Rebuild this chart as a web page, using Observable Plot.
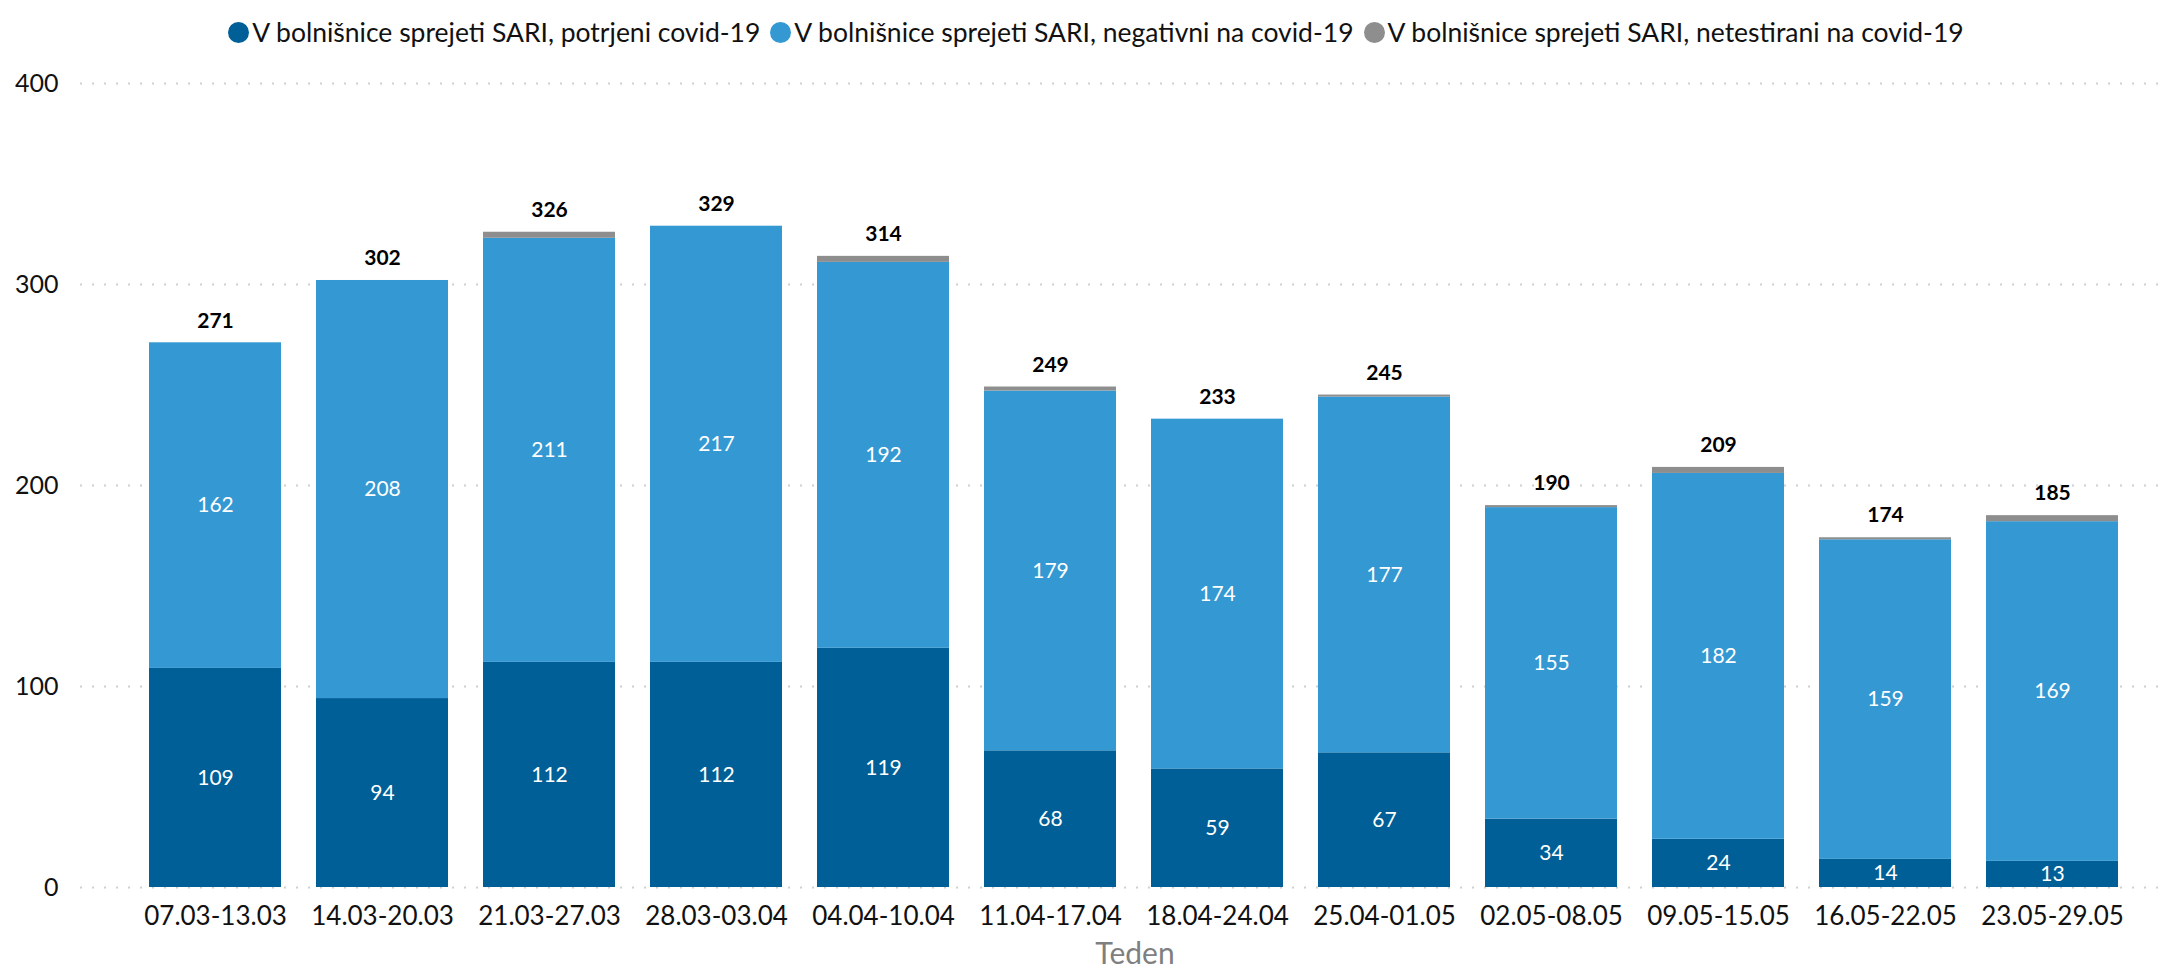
<!DOCTYPE html>
<html>
<head>
<meta charset="utf-8">
<script src="https://cdn.jsdelivr.net/npm/d3@7"></script>
<script src="https://cdn.jsdelivr.net/npm/@observablehq/plot@0.6"></script>
<style>
  html, body { margin: 0; padding: 0; background: #fff; font-family: Lato, "Open Sans", sans-serif; overflow: hidden; }
  #legend { height: 60px; display: flex; align-items: center; justify-content: center; padding-left: 17px; padding-top: 4px; box-sizing: border-box; font-size: 26.5px; color: #111; }
  .item { display: flex; align-items: center; margin: 0 5px; white-space: nowrap; }
  .sw { width: 21px; height: 21px; border-radius: 50%; margin-right: 3px; }
  #xlabel { height: 36px; line-height: 34px; text-align: center; padding-left: 95px; font-size: 30px; color: #7f7f7f; }
</style>
</head>
<body>
<div id="legend"></div>
<div id="chart"></div>
<div id="xlabel"></div>
<script>
const weeks = ["07.03-13.03","14.03-20.03","21.03-27.03","28.03-03.04","04.04-10.04","11.04-17.04","18.04-24.04","25.04-01.05","02.05-08.05","09.05-15.05","16.05-22.05","23.05-29.05"];
const confirmed = [109, 94, 112, 112, 119, 68, 59, 67, 34, 24, 14, 13];
const negative  = [162, 208, 211, 217, 192, 179, 174, 177, 155, 182, 159, 169];
const untested  = [0, 0, 3, 0, 3, 2, 0, 1, 1, 3, 1, 3];
const seriesNames = [
  "V bolnišnice sprejeti SARI, potrjeni covid-19",
  "V bolnišnice sprejeti SARI, negativni na covid-19",
  "V bolnišnice sprejeti SARI, netestirani na covid-19"
];
const seriesColors = ["#005f96", "#3498d3", "#8e8e8e"];
const yTicks = [0, 100, 200, 300, 400];
const xAxisLabel = "Teden";

const seriesValues = [confirmed, negative, untested];
const rows = weeks.flatMap((w, i) => seriesNames.map((s, k) => ({week: w, series: s, value: seriesValues[k][i]})));
const totals = weeks.map((w, i) => ({week: w, total: confirmed[i] + negative[i] + untested[i]}));
const innerLabels = weeks.flatMap((w, i) => [
  {week: w, mid: confirmed[i] / 2, value: confirmed[i]},
  {week: w, mid: confirmed[i] + negative[i] / 2, value: negative[i]}
]);

// legend
const legend = document.getElementById("legend");
seriesNames.forEach((s, k) => {
  const it = document.createElement("div");
  it.className = "item";
  const sw = document.createElement("span");
  sw.className = "sw";
  sw.style.background = seriesColors[k];
  const t = document.createElement("span");
  t.textContent = s;
  it.appendChild(sw); it.appendChild(t);
  legend.appendChild(it);
});
document.getElementById("xlabel").textContent = xAxisLabel;

const chart = Plot.plot({
  width: 2175,
  height: 875,
  marginLeft: 80,
  marginRight: 7,
  marginTop: 23,
  marginBottom: 48,
  style: {fontFamily: "Lato, 'Open Sans', sans-serif", fontSize: "26px", color: "#111", background: "#fff"},
  x: {domain: weeks, paddingInner: 0.212, paddingOuter: 0.339, align: 0.58, label: null},
  y: {domain: [0, 400], label: null},
  color: {domain: seriesNames, range: seriesColors},
  marks: [
    Plot.ruleY(yTicks, {stroke: "#cfcfcf", strokeWidth: 2, strokeDasharray: "2,10"}),
    Plot.barY(rows, {x: "week", y: "value", fill: "series"}),
    Plot.text(innerLabels, {x: "week", y: "mid", text: d => String(d.value), fill: "white", fontSize: 21}),
    Plot.text(totals, {x: "week", y: "total", text: d => String(d.total), dy: -22, fill: "#000", fontWeight: "bold", fontSize: 21}),
    Plot.axisY({ticks: yTicks, tickSize: 0, tickPadding: 22, fontSize: 25, label: null}),
    Plot.axisX({tickSize: 0, tickPadding: 19, fontSize: 26, label: null})
  ]
});
document.getElementById("chart").appendChild(chart);
</script>
</body>
</html>
